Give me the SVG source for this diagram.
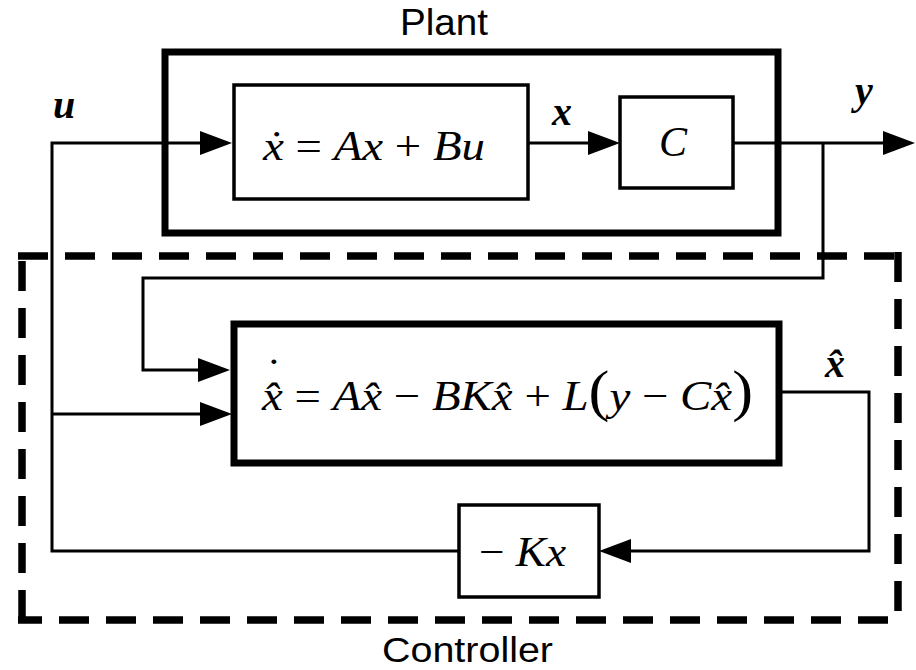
<svg xmlns="http://www.w3.org/2000/svg" width="916" height="670" viewBox="0 0 916 670">
<defs>
<style>
.thin{fill:none;stroke:#000;stroke-width:3.5}
.thick{fill:none;stroke:#000;stroke-width:7}
.dash{fill:none;stroke:#000;stroke-width:7.5;stroke-dasharray:30 17}
.wire{fill:none;stroke:#000;stroke-width:3;marker-end:url(#ah)}
.title{font-family:"Liberation Sans",Arial,sans-serif;font-size:37px;fill:#000}
.math{font-family:"Liberation Serif","Times New Roman",serif;font-size:42px;fill:#000}
.i{font-style:italic}
.bi{font-style:italic;font-weight:bold;font-size:40px}
.big{font-size:56px}
</style>
<marker id="ah" markerWidth="32" markerHeight="24" refX="0" refY="12" orient="auto" markerUnits="userSpaceOnUse">
<path d="M0,0 L32,12 L0,24 Z" fill="#000"/>
</marker>
</defs>
<rect width="916" height="670" fill="#fff"/>

<g id="plant">
<rect class="thick" x="165" y="52" width="613" height="181"/>
<text class="title" x="400" y="35" textLength="88" lengthAdjust="spacingAndGlyphs">Plant</text>
</g>

<g id="controller">
<path class="dash" d="M18,256 H902"/>
<path class="dash" d="M898,252 V624"/>
<path class="dash" d="M902,620 H18" style="stroke-dashoffset:-14"/>
<path class="dash" d="M22,624 V252" style="stroke-dashoffset:-4"/>
<text class="title" x="382" y="662" style="font-size:35px" textLength="171" lengthAdjust="spacingAndGlyphs">Controller</text>
</g>

<g id="plant-dynamics">
<rect class="thin" x="234" y="85" width="294" height="114"/>
<text class="math" x="263" y="160" textLength="222" lengthAdjust="spacingAndGlyphs"><tspan class="i">ẋ</tspan> = <tspan class="i">Ax</tspan> + <tspan class="i">Bu</tspan></text>
</g>

<g id="output-matrix">
<rect class="thin" x="620" y="97" width="113" height="91"/>
<text class="math i" x="659" y="156">C</text>
</g>

<g id="observer">
<rect class="thick" x="234" y="324" width="545" height="139"/>
<text class="math" x="262" y="410" textLength="491" lengthAdjust="spacingAndGlyphs"><tspan class="i">x̂</tspan><tspan dx="-15" dy="-22">˙</tspan><tspan dx="1" dy="22"> = </tspan><tspan class="i">Ax̂</tspan> − <tspan class="i">BKx̂</tspan> + <tspan class="i">L</tspan><tspan class="big">(</tspan><tspan class="i">y</tspan> − <tspan class="i">Cx̂</tspan><tspan class="big">)</tspan></text>
</g>

<g id="gain">
<rect class="thin" x="459" y="505" width="140" height="92"/>
<text class="math" x="479" y="566" textLength="87" lengthAdjust="spacingAndGlyphs">− <tspan class="i">Kx</tspan></text>
</g>

<g id="connectors">
<path class="wire" d="M459,551 H52 V143 H200"/>
<path class="wire" d="M52,414 H200"/>
<path class="wire" d="M528,143 H588"/>
<path class="wire" d="M733,143 H883"/>
<path class="wire" d="M823,143 V278 H143 V370 H198"/>
<path class="wire" d="M779,392 H869 V551 H631"/>
</g>

<g id="labels">
<text class="math bi" x="53" y="118">u</text>
<text class="math bi" x="552" y="125">x</text>
<text class="math bi" x="855" y="104">y</text>
<text class="math bi" x="825" y="377">x̂</text>
</g>
</svg>
